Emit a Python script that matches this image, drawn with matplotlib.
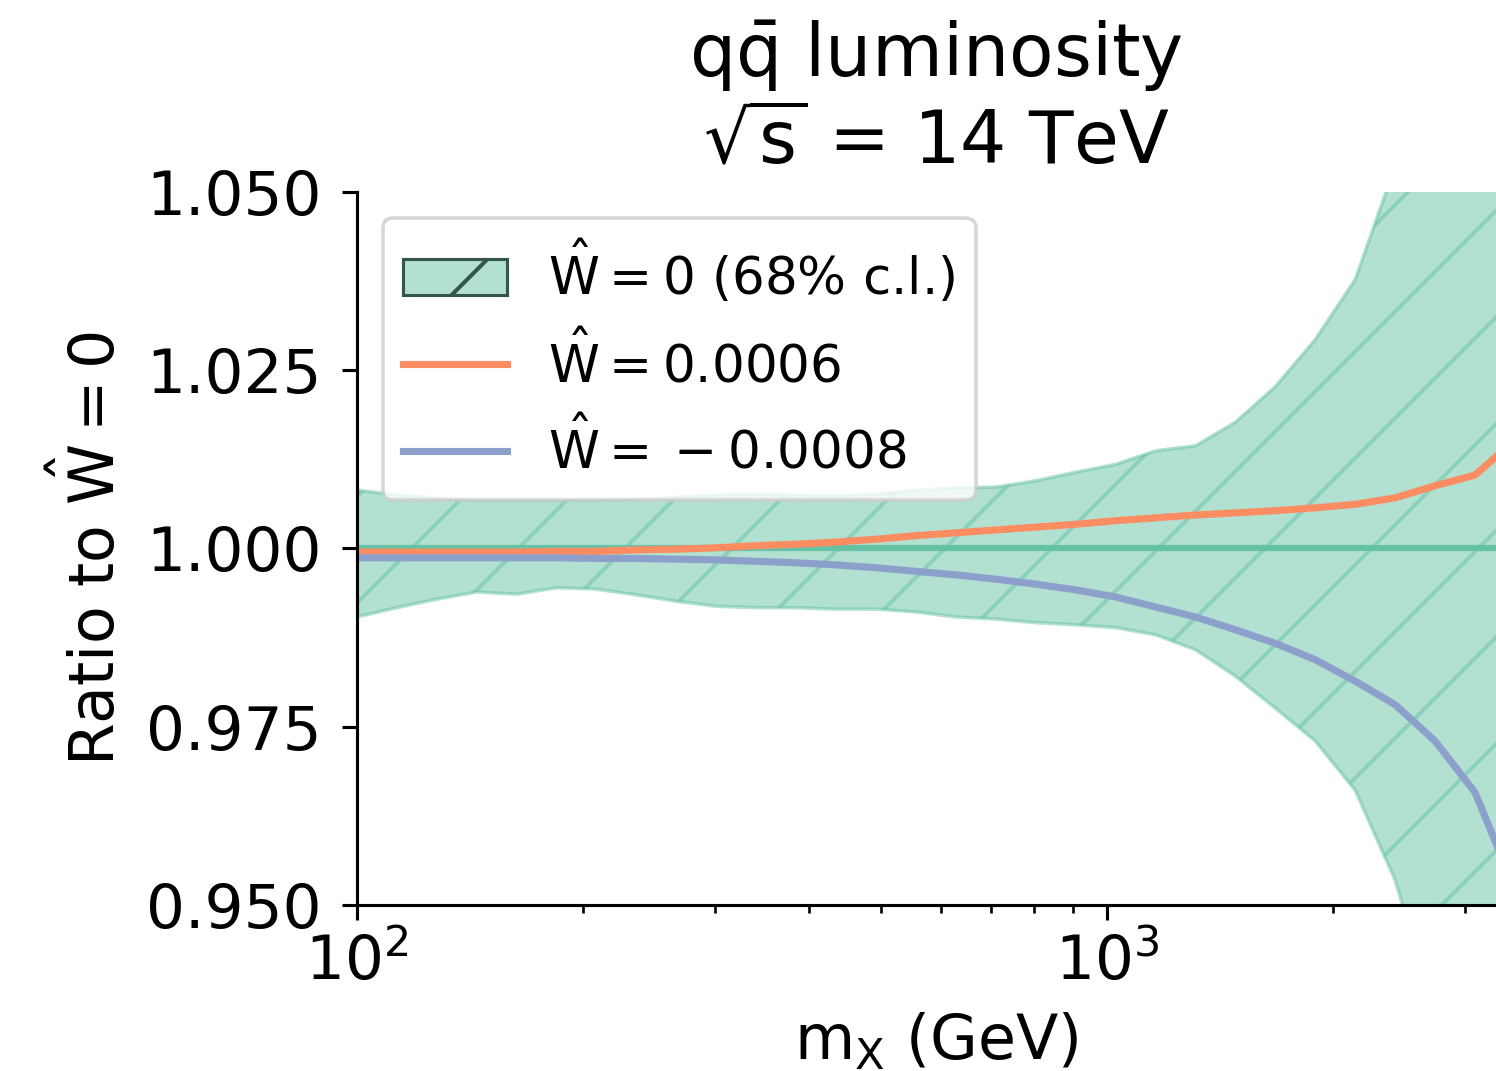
import numpy as np
import matplotlib
matplotlib.use('Agg')
import matplotlib.pyplot as plt
import matplotlib.patches as mpatches
from matplotlib.ticker import FormatStrFormatter

# invariant mass grid (GeV)
m_x = [100, 113.0, 127.8, 144.4, 163.3, 184.6, 208.6, 235.8, 266.6, 301.4,
       340.7, 385.1, 435.4, 492.1, 556.3, 628.9, 710.9, 803.6, 908.4, 1026.9,
       1160.8, 1312.2, 1483.3, 1676.8, 1895.5, 2142.7, 2422.2, 2738.1, 3095.3, 3500]

# 68% c.l. band of the W=0 fit, as ratio to the central value
band_hi = [1.0082, 1.0075, 1.0071, 1.0068, 1.0068, 1.0068, 1.0068, 1.0069, 1.0072, 1.0075,
           1.0076, 1.0075, 1.0074, 1.0076, 1.0082, 1.0085, 1.0086, 1.0095, 1.0107, 1.0118,
           1.0137, 1.0144, 1.0177, 1.0227, 1.0293, 1.0377, 1.0536, 1.0650, 1.0800, 1.1000]
band_lo = [0.9904, 0.9917, 0.9929, 0.9939, 0.9936, 0.9945, 0.9943, 0.9935, 0.9926, 0.9919,
           0.9917, 0.9917, 0.9915, 0.9915, 0.9911, 0.9904, 0.9901, 0.9896, 0.9893, 0.9889,
           0.9879, 0.9858, 0.9821, 0.9776, 0.9730, 0.9661, 0.9535, 0.9350, 0.9200, 0.9000]

# W = 0.0006 and W = -0.0008 over W = 0
ratio_pos = [0.9995, 0.9995, 0.9995, 0.9995, 0.9995, 0.9996, 0.9996, 0.9998, 0.9999, 1.0001,
             1.0004, 1.0006, 1.0009, 1.0013, 1.0018, 1.0022, 1.0026, 1.0030, 1.0034, 1.0039,
             1.0043, 1.0047, 1.0050, 1.0053, 1.0057, 1.0062, 1.0071, 1.0088, 1.0103, 1.0152]
ratio_neg = [0.9987, 0.9987, 0.9987, 0.9987, 0.9987, 0.9987, 0.9986, 0.9986, 0.9985, 0.9984,
             0.9982, 0.9980, 0.9977, 0.9973, 0.9968, 0.9963, 0.9957, 0.9950, 0.9942, 0.9932,
             0.9918, 0.9904, 0.9886, 0.9867, 0.9844, 0.9814, 0.9781, 0.9730, 0.9658, 0.9522]

yticks = [0.950, 0.975, 1.000, 1.025, 1.050]

green, orange, blue = '#66c2a5', '#fc8d62', '#8da0cb'

plt.rcParams.update({
    'font.family': 'DejaVu Sans',
    'mathtext.default': 'regular',
    'axes.linewidth': 0.7,
    'xtick.major.width': 0.7, 'xtick.minor.width': 0.6,
    'ytick.major.width': 0.7,
    'xtick.major.size': 3.4, 'xtick.minor.size': 1.9,
    'ytick.major.size': 3.4,
    'xtick.major.pad': 3.0, 'ytick.major.pad': 4.5,
    'hatch.linewidth': 0.9,
})

dpi = 320
fig = plt.figure(figsize=(1496 / dpi, 1071 / dpi), dpi=dpi)
ax = fig.add_axes([0.23864, 0.155, 0.77406, 0.66573])

ax.fill_between(m_x, band_lo, band_hi, facecolor=green, edgecolor=green,
                alpha=0.5, hatch='/', linewidth=0.8)
ax.axhline(1.0, color=green, lw=1.4)
ax.plot(m_x, ratio_pos, color=orange, lw=1.6)
ax.plot(m_x, ratio_neg, color=blue, lw=1.6)

ax.set_xscale('log')
ax.set_xlim(100, 3500)
ax.set_ylim(0.95, 1.05)
ax.set_yticks(yticks)
ax.yaxis.set_major_formatter(FormatStrFormatter('%.3f'))
ax.tick_params(labelsize=13.8)
ax.spines['top'].set_visible(False)
ax.spines['right'].set_visible(False)

ax.set_xlabel('$m_X$ (GeV)', fontsize=13.9)
ax.set_ylabel(r'Ratio to $\hat{W} = 0$', fontsize=13.9)
ax.xaxis.set_label_coords(0.5, -0.15)
ax.yaxis.set_label_coords(-0.198, 0.5)
ax.set_title('$q\\bar{q}$ luminosity\n$\\sqrt{s}$ = 14 TeV', fontsize=16.4,
             pad=6.3, linespacing=1.27)

handles = [
    mpatches.Patch(facecolor=(0.4, 0.76, 0.647, 0.5), edgecolor='#34564b',
                   hatch='/', linewidth=0.7),
    plt.Line2D([], [], color=orange, lw=1.6),
    plt.Line2D([], [], color=blue, lw=1.6),
]
labels = [r'$\hat{W} = 0$ (68% c.l.)', r'$\hat{W} = 0.0006$', r'$\hat{W} = \:-\:0.0008$']
leg = ax.legend(handles, labels, loc='upper left', fontsize=11.6, framealpha=0.8)
leg.get_frame().set_linewidth(0.8)

fig.savefig('out.png', dpi=dpi)
